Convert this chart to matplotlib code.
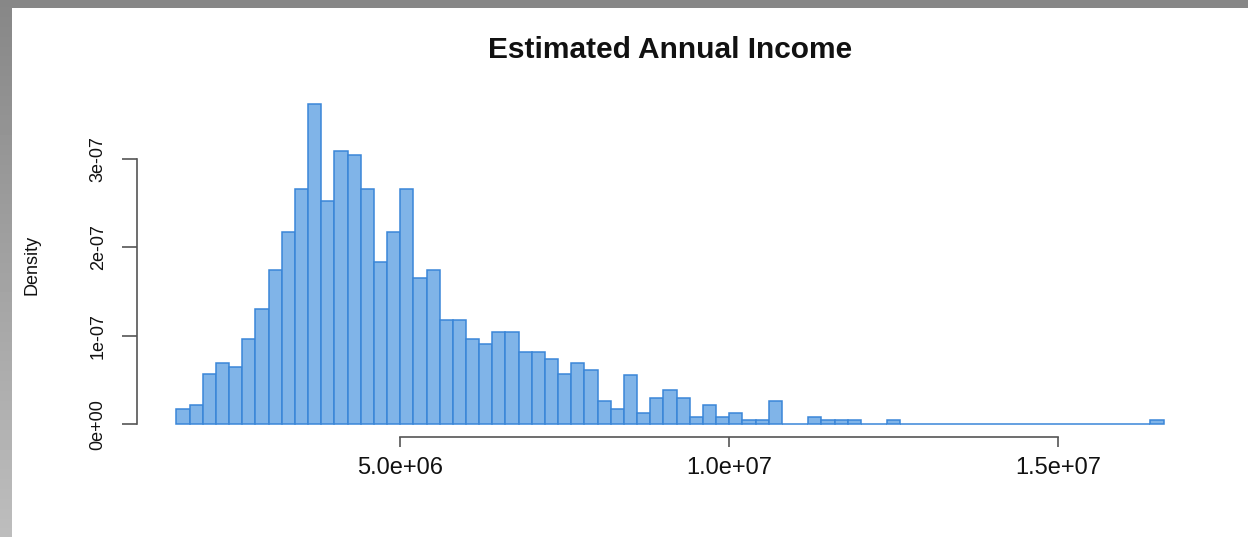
import numpy as np
import matplotlib
matplotlib.use('Agg')
import matplotlib.pyplot as plt

# histogram bins (income)
bin_start = 1.6e6
bin_width = 0.2e6
# density per bin, in units of 1e-7
density_e7 = [0.17, 0.215, 0.563, 0.687, 0.649, 0.959, 1.306, 1.74, 2.18, 2.66,
              3.62, 2.53, 3.09, 3.05, 2.66, 1.83, 2.18, 2.66, 1.65, 1.74,
              1.18, 1.18, 0.96, 0.91, 1.04, 1.04, 0.82, 0.82, 0.74, 0.57,
              0.69, 0.61, 0.26, 0.17, 0.56, 0.13, 0.30, 0.39, 0.30, 0.083,
              0.215, 0.083, 0.13, 0.043, 0.043, 0.26, 0.0, 0.0, 0.083, 0.043,
              0.043, 0.043, 0.0, 0.0, 0.043, 0.0, 0.0, 0.0, 0.0, 0.0,
              0.0, 0.0, 0.0, 0.0, 0.0, 0.0, 0.0, 0.0, 0.0, 0.0,
              0.0, 0.0, 0.0, 0.0, 0.043]

x_ticks = [5e6, 1e7, 1.5e7]
x_tick_labels = ['5.0e+06', '1.0e+07', '1.5e+07']
y_ticks = [0, 1e-7, 2e-7, 3e-7]
y_tick_labels = ['0e+00', '1e-07', '2e-07', '3e-07']

plt.rcParams['font.family'] = ['Liberation Sans', 'DejaVu Sans']

W, H = 1248, 537
fig = plt.figure(figsize=(W / 100, H / 100), dpi=100)
fig.patch.set_facecolor('white')

# gray screenshot frame: top band and left gradient band
top = fig.add_axes([0, 1 - 8 / H, 1, 8 / H])
top.set_facecolor('#878787')
top.set_xticks([])
top.set_yticks([])
for s in top.spines.values():
    s.set_visible(False)
side = fig.add_axes([0, 0, 12 / W, 1])
side.imshow(np.linspace(0.53, 0.74, 64).reshape(-1, 1), cmap='gray', vmin=0, vmax=1,
            aspect='auto', interpolation='bilinear')
side.axis('off')

# plot region (R style: 4% padding around the data range)
ax = fig.add_axes([137 / W, 1 - 437 / H, (1203 - 137) / W, (437 - 91.5) / H])

heights = np.array(density_e7) * 1e-7
lefts = bin_start + bin_width * np.arange(len(heights))
ax.bar(lefts, heights, width=bin_width, align='edge',
       facecolor='#80b4e8', edgecolor='#3a86d8', linewidth=1.1)

x_lo = bin_start
x_hi = bin_start + bin_width * len(heights)
pad = 0.04 * (x_hi - x_lo)
ax.set_xlim(x_lo - pad, x_hi + pad)
ymax = heights.max()
ax.set_ylim(-0.04 * ymax, ymax * 1.04)

ax.set_xticks(x_ticks)
ax.set_xticklabels(x_tick_labels)
ax.set_yticks(y_ticks)
ax.set_yticklabels(y_tick_labels, rotation=90, va='center')

for side_name in ['top', 'right']:
    ax.spines[side_name].set_visible(False)
ax.spines['left'].set_bounds(y_ticks[0], y_ticks[-1])
ax.spines['bottom'].set_bounds(x_ticks[0], x_ticks[-1])
for side_name in ['left', 'bottom']:
    ax.spines[side_name].set_color('#555555')
    ax.spines[side_name].set_linewidth(1.2)

ax.tick_params(axis='x', length=7.2, width=1.2, color='#555555', pad=7, labelsize=17, labelcolor='#111111')
ax.tick_params(axis='y', length=10.8, width=1.2, color='#555555', pad=11, labelsize=13, labelcolor='#111111')
ax.set_facecolor('white')

fig.text(670 / W, 1 - 58 / H, 'Estimated Annual Income', ha='center', va='baseline',
         fontsize=21.5, fontweight='bold', color='#111111')
fig.text(32 / W, 1 - 265 / H, 'Density', rotation=90, ha='center', va='center',
         fontsize=13, color='#111111')

fig.savefig('out.png', dpi=100)
